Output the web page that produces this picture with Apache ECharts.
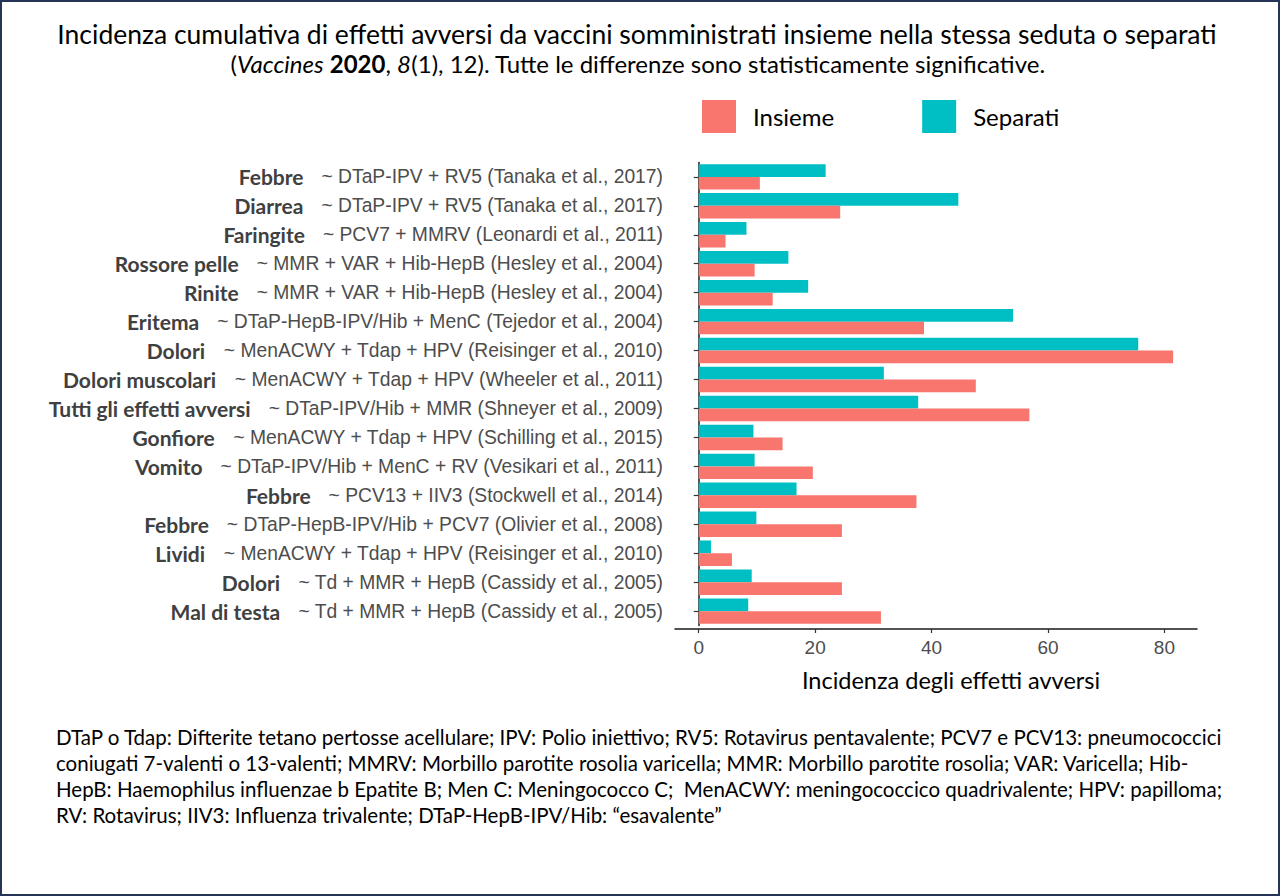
<!DOCTYPE html>
<html><head><meta charset="utf-8">
<script src="https://cdn.jsdelivr.net/npm/echarts@6/dist/echarts.min.js"></script>
<style>
html,body{margin:0;padding:0;background:#fff;}
#chart{position:absolute;left:0;top:0;width:1280px;height:896px;}
#frame{position:absolute;left:0;top:0;width:1280px;height:896px;box-sizing:border-box;border:2px solid #243556;pointer-events:none;}
</style></head><body>
<div id="chart"></div><div id="frame"></div>
<script>
const effects = ['Febbre','Diarrea','Faringite','Rossore pelle','Rinite','Eritema','Dolori','Dolori muscolari','Tutti gli effetti avversi','Gonfiore','Vomito','Febbre','Febbre','Lividi','Dolori','Mal di testa'];
const studies = [
  '~ DTaP-IPV + RV5 (Tanaka et al., 2017)',
  '~ DTaP-IPV + RV5 (Tanaka et al., 2017)',
  '~ PCV7 + MMRV (Leonardi et al., 2011)',
  '~ MMR + VAR + Hib-HepB (Hesley et al., 2004)',
  '~ MMR + VAR + Hib-HepB (Hesley et al., 2004)',
  '~ DTaP-HepB-IPV/Hib + MenC (Tejedor et al., 2004)',
  '~ MenACWY + Tdap + HPV (Reisinger et al., 2010)',
  '~ MenACWY + Tdap + HPV (Wheeler et al., 2011)',
  '~ DTaP-IPV/Hib + MMR (Shneyer et al., 2009)',
  '~ MenACWY + Tdap + HPV (Schilling et al., 2015)',
  '~ DTaP-IPV/Hib + MenC + RV (Vesikari et al., 2011)',
  '~ PCV13 + IIV3 (Stockwell et al., 2014)',
  '~ DTaP-HepB-IPV/Hib + PCV7 (Olivier et al., 2008)',
  '~ MenACWY + Tdap + HPV (Reisinger et al., 2010)',
  '~ Td + MMR + HepB (Cassidy et al., 2005)',
  '~ Td + MMR + HepB (Cassidy et al., 2005)'
];
const insieme  = [10.5, 24.3, 4.6, 9.6, 12.7, 38.7, 81.5, 47.6, 56.8, 14.4, 19.6, 37.4, 24.6, 5.7, 24.6, 31.3];
const separati = [21.8, 44.6, 8.2, 15.4, 18.8, 54.0, 75.5, 31.8, 37.7, 9.4, 9.6, 16.8, 9.9, 2.1, 9.1, 8.5];
const xTicks = [0, 20, 40, 60, 80];
const seriesNames = ['Insieme', 'Separati'];
const titleLine1 = 'Incidenza cumulativa di effetti avversi da vaccini somministrati insieme nella stessa seduta o separati';
const xName = 'Incidenza degli effetti avversi';
const footerLines = [
  'DTaP o Tdap: Difterite tetano pertosse acellulare; IPV: Polio iniettivo; RV5: Rotavirus pentavalente; PCV7 e PCV13: pneumococcici',
  'coniugati 7-valenti o 13-valenti; MMRV: Morbillo parotite rosolia varicella; MMR: Morbillo parotite rosolia; VAR: Varicella; Hib-',
  'HepB: Haemophilus influenzae b Epatite B; Men C: Meningococco C;  MenACWY: meningococcico quadrivalente; HPV: papilloma;',
  'RV: Rotavirus; IIV3: Influenza trivalente; DTaP-HepB-IPV/Hib: \u201cesavalente\u201d'
];

const categories = effects.map((e, i) => e + '|' + studies[i]);
const CAL = 'Lato';

const footerTitles = footerLines.map((line, i) => ({
  text: line, left: 51, top: 721 + i * 26,
  textStyle: {fontFamily: CAL, fontWeight: 'normal', fontSize: 20.5, color: '#000'}
}));

const chart = echarts.init(document.getElementById('chart'), null, {renderer: 'svg'});
chart.setOption({
  animation: false,
  backgroundColor: '#fff',
  title: [
    {text: titleLine1, left: 632, top: 15, textAlign: 'center',
     textStyle: {fontFamily: CAL, fontWeight: 'normal', fontSize: 26.5, color: '#000'}},
    {text: '{n|(}{i|Vaccines}{n| }{b|2020}{n|, }{i|8}{n|(1), 12). Tutte le differenze sono statisticamente significative.}',
     left: 633, top: 46, textAlign: 'center',
     textStyle: {fontWeight: 'normal', fontSize: 24, rich: {
       n: {fontFamily: CAL, fontSize: 24, color: '#000', fontWeight: 'normal'},
       i: {fontFamily: CAL, fontSize: 24, color: '#000', fontWeight: 'normal', fontStyle: 'italic'},
       b: {fontFamily: CAL, fontSize: 24, color: '#000', fontWeight: 'bold'}
     }}}
  ].concat(footerTitles),
  legend: {
    data: seriesNames, left: 702, top: 100, padding: 0, itemWidth: 34, itemHeight: 33, itemGap: 88,
    icon: 'rect',
    textStyle: {fontFamily: CAL, fontSize: 24, color: '#000', padding: [0, 0, 0, 12]}
  },
  grid: {left: 675, right: 83, top: 162.4, bottom: 270.4, containLabel: false},
  xAxis: {
    type: 'value', min: -4.08, max: 85.6, offset: 3.4,
    axisLine: {show: true, lineStyle: {color: '#1a1a1a', width: 1.5}},
    axisTick: {show: true, length: 4, lineStyle: {color: '#333', width: 1.2}, customValues: xTicks},
    axisLabel: {customValues: xTicks, color: '#4d4d4d', fontFamily: 'Liberation Sans', fontSize: 19, margin: 9},
    splitLine: {show: false},
    name: xName, nameLocation: 'middle', nameGap: 39,
    nameTextStyle: {fontFamily: CAL, fontSize: 23.5, color: '#000', padding: [0, 0, 0, 30]}
  },
  yAxis: {
    type: 'category', data: categories, inverse: true,
    axisLine: {show: true, lineStyle: {color: '#1a1a1a', width: 1.5}},
    axisTick: {show: true, alignWithLabel: true, length: 5, lineStyle: {color: '#333', width: 1.2}},
    axisLabel: {
      interval: 0, margin: 12,
      formatter: v => { const p = v.split('|'); return '{b|' + p[0] + '}{g|' + p[1] + '}'; },
      rich: {
        b: {fontFamily: CAL, fontWeight: 'bold', fontSize: 21, color: '#404040', padding: [0, 18, 0, 0]},
        g: {fontFamily: 'Liberation Sans', fontSize: 19.3, color: '#4d4d4d'}
      }
    }
  },
  series: [
    {name: 'Separati', type: 'bar', data: separati, itemStyle: {color: '#00BFC4'}, barGap: '0%', barCategoryGap: '12%'},
    {name: 'Insieme', type: 'bar', data: insieme, itemStyle: {color: '#F8766D'}, barGap: '0%', barCategoryGap: '12%'}
  ]
});
</script>
</body></html>
